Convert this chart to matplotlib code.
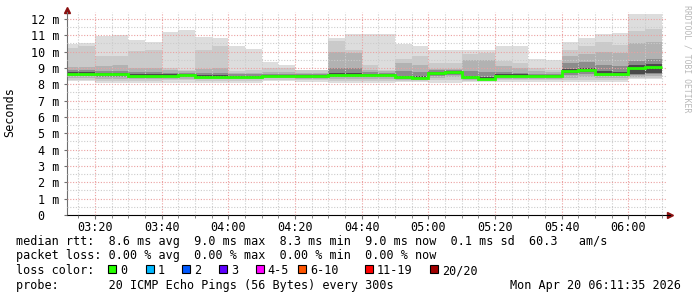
import numpy as np
import matplotlib.pyplot as plt
from matplotlib.ticker import MultipleLocator, FuncFormatter
from matplotlib.patches import Rectangle

plt.rcParams['font.family'] = ['DejaVu Sans Mono']

# 5 minute bins, time in minutes after midnight (first bin is partial: 03:11:35 - 03:15)
t_start = 3 * 60 + 11 + 35 / 60.0
t_end = 6 * 60 + 11 + 35 / 60.0
edges = np.concatenate([[t_start], np.arange(195, 371, 5)])

# smoke bands (ms), outermost to innermost
top = [10.45, 10.53, 10.94, 11.02, 10.69, 10.61, 11.22, 11.30, 10.88, 10.80, 10.32, 10.18,
       9.35, 9.20, 8.90, 8.90, 10.80, 11.10, 11.10, 11.10, 10.47, 10.32, 10.12, 10.12,
       10.12, 10.10, 10.32, 10.32, 9.57, 9.49, 10.61, 10.80, 11.06, 11.12, 12.28, 12.28]
up2 = [10.20, 10.32, 9.75, 9.71, 10.06, 10.12, 9.00, 8.90, 10.12, 10.32, 8.80, 8.85,
       9.00, 9.00, 8.85, 8.85, 10.63, 10.12, 9.16, 8.85, 9.55, 9.71, 9.30, 9.27,
       9.82, 9.92, 9.41, 9.30, 9.00, 8.90, 10.12, 10.32, 10.56, 10.43, 11.26, 11.39]
up3 = [9.05, 9.05, 9.10, 9.15, 9.00, 9.00, 8.85, 8.80, 8.95, 9.00, 8.70, 8.70,
       8.75, 8.75, 8.70, 8.70, 9.96, 9.90, 8.90, 8.80, 9.30, 9.20, 8.95, 8.95,
       9.50, 9.50, 9.10, 9.00, 8.80, 8.75, 9.75, 9.85, 10.00, 9.90, 10.50, 10.60]
up4 = [8.85, 8.85, 8.80, 8.80, 8.75, 8.75, 8.70, 8.70, 8.70, 8.70, 8.60, 8.60,
       8.65, 8.65, 8.60, 8.60, 9.00, 9.00, 8.75, 8.70, 8.80, 8.75, 8.85, 8.90,
       8.80, 8.75, 8.75, 8.70, 8.65, 8.65, 9.30, 9.35, 9.20, 9.10, 9.45, 9.55]
up5 = [8.74, 8.74, 8.70, 8.70, 8.60, 8.60, 8.60, 8.64, 8.55, 8.55, 8.52, 8.53,
       8.57, 8.59, 8.55, 8.55, 8.66, 8.68, 8.64, 8.64, 8.52, 8.48, 8.76, 8.82,
       8.52, 8.45, 8.60, 8.62, 8.58, 8.58, 8.95, 9.00, 8.78, 8.74, 9.20, 9.25]
lo5 = [8.58, 8.58, 8.55, 8.55, 8.47, 8.47, 8.47, 8.50, 8.42, 8.42, 8.41, 8.42,
       8.46, 8.48, 8.44, 8.44, 8.51, 8.53, 8.51, 8.51, 8.38, 8.35, 8.58, 8.64,
       8.37, 8.31, 8.46, 8.48, 8.46, 8.46, 8.66, 8.72, 8.58, 8.55, 8.62, 8.68]
lo4 = [8.52, 8.52, 8.45, 8.45, 8.40, 8.40, 8.42, 8.44, 8.37, 8.37, 8.38, 8.38,
       8.42, 8.43, 8.40, 8.40, 8.45, 8.47, 8.45, 8.45, 8.34, 8.31, 8.52, 8.56,
       8.33, 8.28, 8.42, 8.44, 8.42, 8.42, 8.55, 8.60, 8.52, 8.50, 8.55, 8.60]
lo3 = [8.40, 8.40, 8.32, 8.32, 8.32, 8.32, 8.35, 8.35, 8.30, 8.30, 8.32, 8.32,
       8.36, 8.36, 8.33, 8.33, 8.35, 8.35, 8.35, 8.35, 8.28, 8.26, 8.40, 8.42,
       8.28, 8.25, 8.33, 8.35, 8.33, 8.33, 8.40, 8.45, 8.40, 8.40, 8.45, 8.48]
lo2 = [8.28, 8.28, 8.20, 8.20, 8.22, 8.22, 8.25, 8.25, 8.20, 8.20, 8.22, 8.22,
       8.28, 8.28, 8.25, 8.25, 8.22, 8.22, 8.22, 8.22, 8.22, 8.20, 8.25, 8.25,
       8.22, 8.20, 8.25, 8.25, 8.25, 8.25, 8.25, 8.25, 8.28, 8.28, 8.40, 8.40]
bottom = [8.18, 8.18, 8.08, 8.08, 8.08, 8.08, 8.10, 8.10, 8.08, 8.08, 8.10, 8.10,
          8.18, 8.18, 8.15, 8.15, 8.10, 8.10, 8.10, 8.10, 8.15, 8.15, 8.08, 8.08,
          8.15, 8.15, 8.15, 8.15, 8.15, 8.15, 8.12, 8.12, 8.15, 8.15, 8.33, 8.33]
median = [8.65, 8.65, 8.62, 8.62, 8.53, 8.53, 8.53, 8.57, 8.47, 8.47, 8.46, 8.47,
          8.51, 8.53, 8.49, 8.49, 8.57, 8.59, 8.57, 8.57, 8.43, 8.39, 8.67, 8.73,
          8.42, 8.35, 8.51, 8.53, 8.51, 8.51, 8.78, 8.84, 8.65, 8.61, 8.98, 9.04]

loss_labels = ['0', '1', '2', '3', '4-5', '6-10', '11-19', '20/20']
loss_colors = ['#26ff00', '#00b8ff', '#0059ff', '#5e00ff', '#ff00ff', '#ff5500', '#ff0000', '#a00000']

W, H = 697, 297
fig = plt.figure(figsize=(W / 100, H / 100), dpi=100)
fig.patch.set_facecolor('white')
ax = fig.add_axes([67 / W, 82 / H, 600 / W, 202.7 / H])

bands = [(bottom, top, '#dddddd'), (lo2, up2, '#cacaca'), (lo3, up3, '#b2b2b2'),
         (lo4, up4, '#8c8c8c'), (lo5, up5, '#4a4a4a')]
for lo, hi, c in bands:
    ax.stairs(hi, edges, baseline=lo, fill=True, color=c, lw=0)

ax.stairs(median, edges, baseline=None, color=loss_colors[0], lw=2.0, zorder=3)

ax.set_xlim(t_start, t_end)
ax.set_ylim(0, 12.4)

ax.xaxis.set_major_locator(MultipleLocator(20))
ax.xaxis.set_minor_locator(MultipleLocator(5))
ax.yaxis.set_major_locator(MultipleLocator(1))
ax.yaxis.set_minor_locator(MultipleLocator(0.5))
ax.xaxis.set_major_formatter(FuncFormatter(lambda v, p: '%02d:%02d' % (int(round(v)) // 60, int(round(v)) % 60)))
ax.yaxis.set_major_formatter(FuncFormatter(lambda v, p: '%d m' % round(v) if v > 0.01 else '0  '))

ax.set_axisbelow(False)
ax.grid(which='major', color='#eba0a0', ls=(0, (1, 1.5)), lw=0.8)
ax.grid(which='minor', color='#cccccc', ls=(0, (1, 1.5)), lw=0.8)

ax.tick_params(axis='both', which='both', labelsize=8.5, colors='#707070', labelcolor='black')
ax.tick_params(axis='x', which='major', length=3, pad=1)
ax.tick_params(axis='x', which='minor', length=2)
ax.tick_params(axis='y', which='major', length=2, pad=3.2)
ax.tick_params(axis='y', which='minor', length=0)

for s in ['top', 'right']:
    ax.spines[s].set_visible(False)
ax.spines['left'].set_color('#707070')
ax.spines['bottom'].set_color('black')
ax.spines['bottom'].set_bounds(t_start, t_end + 0.9)
ax.plot([0], [1.012], marker='^', color='#8b1010', ms=4, transform=ax.transAxes, clip_on=False)
ax.plot([1.005], [0], marker='>', color='#8b1010', ms=4, transform=ax.transAxes, clip_on=False)

fig.text(10 / W, 1 - 112 / H, 'Seconds', rotation=90, ha='center', va='center', fontsize=8.5)
fig.text(687.5 / W, 1 - 59 / H, 'RRDTOOL / TOBI OETIKER', rotation=270, ha='center', va='center',
         fontsize=5.9, color='#b8b8b8')

def put(x, y, s, **kw):
    fig.text(x / W, 1 - y / H, s, va='center', fontsize=8.5, **kw)

put(16, 241, 'median rtt:  8.6 ms avg  9.0 ms max  8.3 ms min  9.0 ms now  0.1 ms sd  60.3   am/s')
put(16, 256, 'packet loss: 0.00 % avg  0.00 % max  0.00 % min  0.00 % now')
put(16, 270.5, 'loss color:')
box_x = [108, 145.7, 182.3, 219, 255.7, 298.3, 365, 430]
for bx, lab, col in zip(box_x, loss_labels, loss_colors):
    fig.add_artist(Rectangle((bx / W, 1 - 273 / H), 8 / W, 8 / H, transform=fig.transFigure,
                             facecolor=col, edgecolor='black', lw=0.8))
    put(bx + 12, 270.5, lab)
put(16, 285, 'probe:       20 ICMP Echo Pings (56 Bytes) every 300s')
put(681, 285, 'Mon Apr 20 06:11:35 2026', ha='right')

fig.savefig('out.png', dpi=100)
